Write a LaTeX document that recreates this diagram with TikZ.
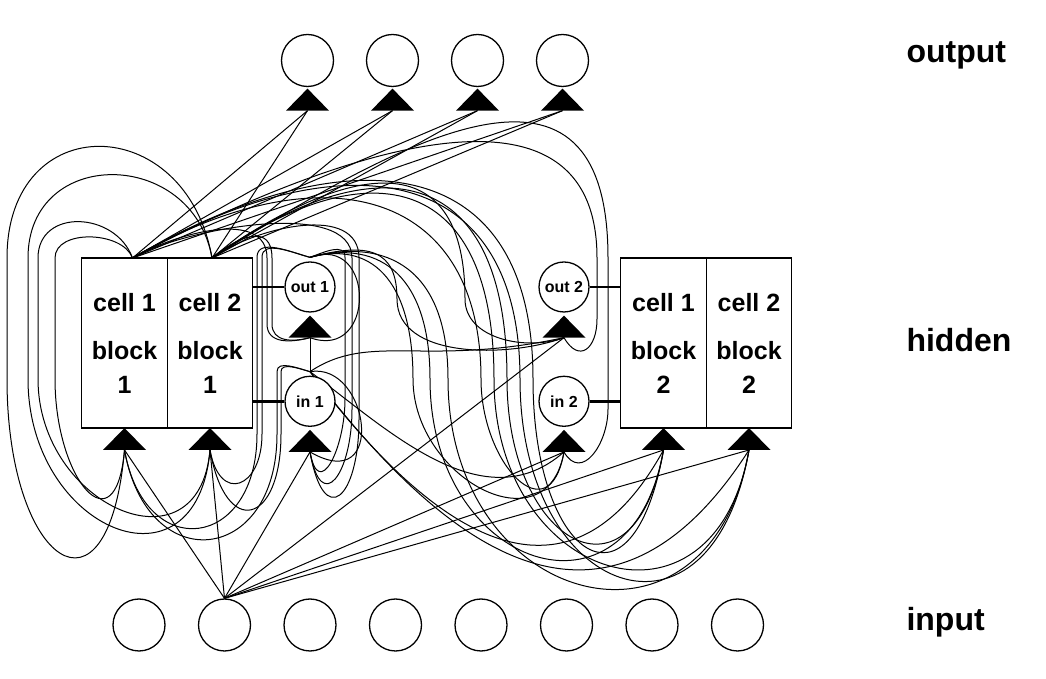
\documentclass[tikz,border=0pt]{standalone}
\usepackage{fontspec}
\setmainfont{Liberation Sans}
\usetikzlibrary{positioning,backgrounds}

\begin{document}
\begin{tikzpicture}[x=1pt,y=1pt,
  unit/.style={circle, draw, fill=white, line width=1.3pt, minimum size=52pt, inner sep=0pt},
  gate/.style={circle, draw, fill=white, line width=1.3pt, minimum size=50pt, inner sep=0pt,
    font=\fontsize{16}{18}\selectfont\bfseries},
  cell/.style={rectangle, draw, fill=white, line width=1.3pt, minimum width=85.5pt,
    minimum height=170pt, inner sep=0pt, outer sep=0pt, align=center,
    font=\fontsize{25}{34}\selectfont\bfseries},
  layer/.style={anchor=west, font=\fontsize{32}{36}\selectfont\bfseries},
  wire/.style={line width=1pt},
  stub/.style={line width=2.6pt}]

\useasboundingbox (0,0) rectangle (1046,679);

% output layer
\foreach \i in {1,...,4}
  \node[unit] (y\i) at ({307.5+85*(\i-1)},618.5) {};

% hidden layer: two blocks of two cells
\node[cell] (c11) at (124.5,336) {cell 1\\[14pt]block\\1};
\node[cell, right=0pt of c11] (c21) {cell 2\\[14pt]block\\1};
\node[cell] (c12) at (663.5,336) {cell 1\\[14pt]block\\2};
\node[cell, right=0pt of c12] (c22) {cell 2\\[14pt]block\\2};

% gates
\node[gate] (og1) at (310,392) {out 1};
\node[gate, below=63pt of og1] (ig1) {in 1};
\node[gate] (og2) at (564,392) {out 2};
\node[gate, below=63pt of og2] (ig2) {in 2};

\draw[stub] (og1.west -| c21.east) -- (og1.west);
\draw[stub] (ig1.west -| c21.east) -- (ig1.west);
\draw[stub] (og2.east) -- (og2.east -| c12.west);
\draw[stub] (ig2.east) -- (ig2.east -| c12.west);

% input layer
\foreach \i in {1,...,8}
  \node[unit] (x\i) at ({139+85.5*(\i-1)},54) {};

% layer names
\node[layer] (lo) at (903,624) {output};
\node[layer] (lh) at (903,339) {hidden};
\node[layer] (li) at (903,57) {input};

% where the connections meet
\coordinate (c11o) at ([xshift=8pt]c11.north);
\coordinate (c21o) at ([xshift=2pt]c21.north);
\coordinate (og1o) at ([yshift=4pt]og1.north);
\coordinate (ig1o) at ([yshift=4pt]ig1.north);
\coordinate (t11) at ([yshift=-22pt]c11.south);
\coordinate (t21) at ([yshift=-22pt]c21.south);
\coordinate (t12) at ([yshift=-22pt]c12.south);
\coordinate (t22) at ([yshift=-22pt]c22.south);
\coordinate (tog1) at ([yshift=-25pt]og1.south);
\coordinate (tig1) at ([yshift=-25pt]ig1.south);
\coordinate (tog2) at ([yshift=-25pt]og2.south);
\coordinate (tig2) at ([yshift=-25pt]ig2.south);
\foreach \i in {1,...,4}
  \coordinate (ty\i) at ([yshift=-23.5pt]y\i.south);

% turning points of the long connections
\foreach \w/\x/\y in {lw1/7/300, lw2/28/300, lw3/55/300, lw4/38/300,
  g1/257/245, g3/262/245, g8/267/355, g9/272/355, g6/277/245, g7/281/245,
  r1/345/280, r2/352/270, r3/359/260, h1/597/360, h2/608/270,
  m1/533/300, m2/520/300, m3/507/300, m4/494/300, m5/481/300, m6/465/380,
  m7/448/300, m8/430/300, m9/413/300, m10/397/380}
  \coordinate (\w) at (\x,\y);

% triangles
\foreach \t in {t11,t21,t12,t22,tog1,tig1,tog2,tig2,ty1,ty2,ty3,ty4}
  \fill (\t) ++(-21.5,0) -- ++(21.5,22) -- ++(21.5,-22) -- cycle;

\begin{pgfonlayer}{background}
% cells to output units
\foreach \i in {1,...,4} {
  \draw[wire] (c11o) -- (ty\i);
  \draw[wire] (c21o) -- (ty\i);
}
% one input unit to the hidden units
\foreach \t in {t11,t21,tig1,tig2,tog2,t12,t22}
  \draw[wire] (x2.north) -- (\t);
\draw[wire] (ig1o) -- (tog1);
% recurrent connections of block 1: up, over, straight down, round
\foreach \s/\w/\t/\oa/\da/\ib/\db in {
  c21o/lw1/t11/100/150/-95/185, c21o/lw2/t21/100/112/-95/151,
  c11o/lw3/t11/110/29/-95/101, c11o/lw4/t21/110/50/-95/127,
  og1o/g1/t11/165/20/-80/116, og1o/g3/t21/165/18/-80/55,
  c11o/g8/tog1/30/50/195/20, c21o/g9/tog1/40/35/195/18,
  ig1o/g6/t11/165/12/-80/131, ig1o/g7/t21/165/10/-80/91,
  og1o/r1/tig1/20/15/-80/50, c11o/r2/tig1/30/60/-80/65,
  c21o/r3/tig1/35/55/-80/80,
  c11o/h1/tog2/28/205/-60/30, c21o/h2/tig2/32/232/-60/35}
  \draw[wire] (\s) to[out=\oa,in=90,distance=\da pt] (\w |- \s) -- (\w)
    to[out=-90,in=\ib,distance=\db pt] (\t);
% recurrent connections of block 1: arcs over to block 2
\foreach \s/\w/\t/\oa/\da/\ea/\ib/\db in {
  c11o/m1/t12/30/250/230/-100/179, c11o/m2/t22/30/240/220/-100/219,
  c21o/m3/t12/35/210/210/-100/167, c21o/m4/t22/35/200/200/-100/203,
  c11o/m5/tig2/30/220/190/-100/85, c21o/m6/tog2/35/180/150/200/40,
  og1o/m7/t22/15/80/110/-100/230, og1o/m8/t12/15/75/100/-100/190,
  og1o/m9/tig2/15/70/90/-100/99, og1o/m10/tog2/15/60/50/200/60}
  \draw[wire] (\s) to[out=\oa,in=90,out distance=\da pt,in distance=\ea pt] (\w)
    to[out=-90,in=\ib,distance=\db pt] (\t);
% recurrent connections of block 1: short loops and cross-overs
\foreach \s/\t/\ax/\ay/\bx/\by in {
  og1o/tog1/66/24/66/-24, ig1o/tig1/59/10/78/-45,
  ig1o/tog2/60/40/-140/-30, ig1o/tig2/80/-60/-80/-70,
  ig1o/t12/90/-120/-110/-200, ig1o/t22/100/-130/-160/-250}
  \draw[wire] (\s) .. controls +(\ax,\ay) and +(\bx,\by) .. (\t);
\end{pgfonlayer}
\end{tikzpicture}
\end{document}
